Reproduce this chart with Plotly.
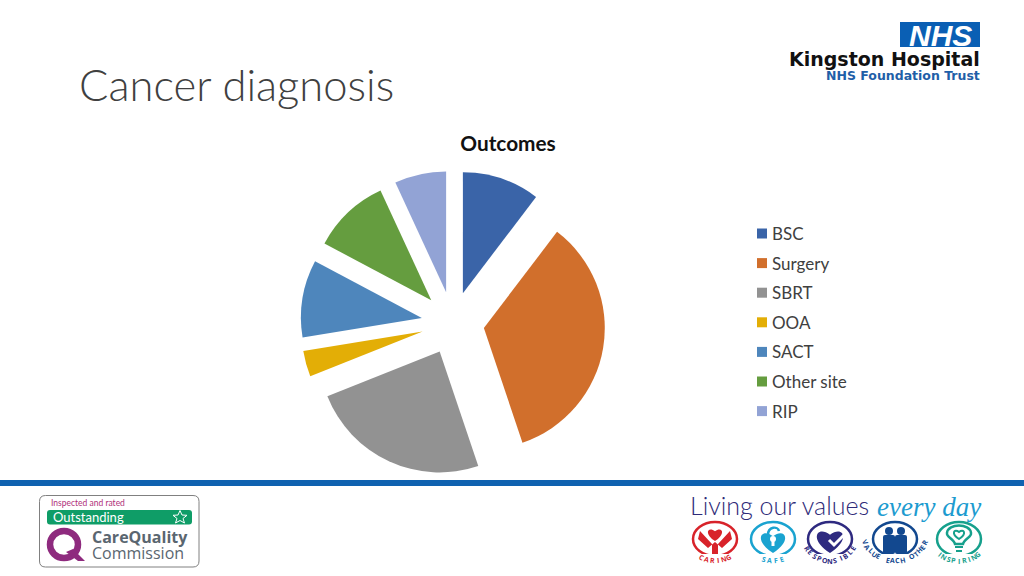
"""Outcomes pie on the Kingston Hospital slide template."""

import math

import plotly.graph_objects as go

CATEGORIES = ["BSC", "Surgery", "SBRT", "OOA", "SACT", "Other site", "RIP"]
PATIENTS = [3, 10, 7, 1, 3, 3, 2]
COLOURS = ["#3A64A8", "#D16F2C", "#929292", "#E3AE06", "#4E86BC", "#659D3F", "#92A3D5"]
VALUES = ["CARING", "SAFE", "RESPONSIBLE", "VALUE EACH OTHER", "INSPIRING"]
VALUE_COLOURS = ["#D8232A", "#1AA3D0", "#2E2A80", "#12488F", "#16A08C"]

NAVY = "#2E2A78"
FONT = "Lato"

shapes = []
annotations = []


def label(x, y, text, size, color="#000000", anchor="left", family=FONT, angle=0, weight=None):
    font = dict(size=size, color=color, family=family)
    if weight:
        font["weight"] = weight
    annotations.append(
        dict(
            x=x, y=y, xref="x", yref="y", text=text, showarrow=False, xanchor=anchor,
            yanchor="middle", textangle=angle, font=font,
        )
    )


def rect(x0, y0, x1, y1, fill):
    shapes.append(dict(type="rect", x0=x0, y0=y0, x1=x1, y1=y1, fillcolor=fill, line_width=0))


def path(d, fill="rgba(0,0,0,0)", line=None, width=0):
    shapes.append(dict(type="path", path=d, fillcolor=fill, line=dict(color=line or "rgba(0,0,0,0)", width=width)))


def rounded(x0, y0, x1, y1, r):
    return (
        f"M{x0 + r},{y0} L{x1 - r},{y0} Q{x1},{y0} {x1},{y0 + r} L{x1},{y1 - r} Q{x1},{y1} {x1 - r},{y1} "
        f"L{x0 + r},{y1} Q{x0},{y1} {x0},{y1 - r} L{x0},{y0 + r} Q{x0},{y0} {x0 + r},{y0} Z"
    )


def heart(cx, cy, s):
    return (
        f"M{cx},{cy + s} C{cx - 1.7 * s},{cy - 0.1 * s} {cx - 0.95 * s},{cy - 1.15 * s} {cx},{cy - 0.4 * s} "
        f"C{cx + 0.95 * s},{cy - 1.15 * s} {cx + 1.7 * s},{cy - 0.1 * s} {cx},{cy + s} Z"
    )


def disc(cx, cy, r, color):
    shapes.append(dict(type="circle", x0=cx - r, y0=cy - r, x1=cx + r, y1=cy + r, fillcolor=color, line_width=0))


def arc_text(cx, bottom, r, text, color, step):
    # value names curve along the bottom of each badge
    start = -step * (len(text) - 1) / 2
    for i, ch in enumerate(text):
        a = math.radians(start + i * step)
        label(cx + r * math.sin(a), bottom - r + r * math.cos(a), f"<b>{ch}</b>", 7, color, "center", "Open Sans", -math.degrees(a))


# slide heading and rule
label(77, 84, "Cancer diagnosis", 43.5, "#404040", weight=300)
rect(0, 480, 1024, 486, "#0F62B0")

# NHS logo
rect(900, 22, 980, 47, "#0A5FB4")
label(940, 35, "<b><i>NHS</i></b>", 30, "white", "center", "Liberation Sans")
label(982, 59, "<b>Kingston Hospital</b>", 19, "#111111", "right", "DejaVu Sans")
label(982, 75, "<b>NHS Foundation Trust</b>", 12.5, "#1F5FA8", "right", "DejaVu Sans")

# hand-built legend so the row spacing matches the slide
for i, (name, colour) in enumerate(zip(CATEGORIES, COLOURS)):
    y = 233.5 + i * 29.6
    rect(757, y - 5, 767, y + 5, colour)
    label(770, y, name, 17, "#404040")

# CQC badge
path(rounded(39.5, 495.5, 199, 567, 6), "white", "#808080", 1)
label(49, 503, "Inspected and rated", 8.5, "#B0307A")
path(rounded(47, 510, 192, 524.5, 3), "#0F9D67")
label(51, 517, "Outstanding", 13, "white")
path("M180,510.5 L182,515 L187,515.3 L183,518.5 L184.5,523 L180,520.5 L175.5,523 L177,518.5 L173,515.3 L178,515 Z",
     "rgba(0,0,0,0)", "white", 1)
shapes.append(dict(type="circle", x0=50, y0=531, x1=78, y1=558, fillcolor="white", line=dict(color="#8E2A7E", width=6.5)))
path("M66,552 L78,561 L85,561 L73,549 Z", "#8E2A7E")
label(90, 536.5, "<b>CareQuality</b>", 16, "#5A6670", family="Open Sans")
label(90, 552.5, "Commission", 16, "#5A6670", family="Open Sans")

# values strip
label(688, 505, "Living our values", 25, NAVY, weight=300)
label(875, 507, "<i>every day</i>", 27, "#1C9BD0", family="Liberation Serif")

BADGES = [715, 773, 830, 895, 959]
BADGE_Y = 539
ARC_RADII = [30, 30, 27, 34, 30]
ARC_STEPS = [11, 12, 11.6, 8.3, 9.7]
for cx, word, colour, r, step in zip(BADGES, VALUES, VALUE_COLOURS, ARC_RADII, ARC_STEPS):
    shapes.append(
        dict(type="circle", x0=cx - 22, y0=BADGE_Y - 17, x1=cx + 22, y1=BADGE_Y + 17,
             fillcolor="white", line=dict(color=colour, width=2.5))
    )
    path(rounded(cx - 14, BADGE_Y + 15, cx + 14, BADGE_Y + 19, 1), "white")
    arc_text(cx, 561, r, word, colour, step)

# caring: heart held by two hands
cx = BADGES[0]
path(heart(cx, BADGE_Y - 5, 7), VALUE_COLOURS[0])
path(f"M{cx - 15},{BADGE_Y - 8} L{cx - 3},{BADGE_Y + 5} L{cx - 3},{BADGE_Y + 15} L{cx + 3},{BADGE_Y + 15} "
     f"L{cx + 3},{BADGE_Y + 5} L{cx + 15},{BADGE_Y - 8} L{cx + 17},{BADGE_Y} L{cx + 7},{BADGE_Y + 9} "
     f"L{cx},{BADGE_Y + 3} L{cx - 7},{BADGE_Y + 9} L{cx - 17},{BADGE_Y} Z", VALUE_COLOURS[0])
# safe: heart shaped padlock
cx = BADGES[1]
path(f"M{cx - 5},{BADGE_Y - 4} C{cx - 5},{BADGE_Y - 13} {cx + 5},{BADGE_Y - 13} {cx + 6},{BADGE_Y - 8}",
     line=VALUE_COLOURS[1], width=2.5)
path(heart(cx, BADGE_Y + 2, 12), VALUE_COLOURS[1])
disc(cx, BADGE_Y, 3, "white")
rect(cx - 1.5, BADGE_Y, cx + 1.5, BADGE_Y + 7, "white")
# responsible: heart with a tick
cx = BADGES[2]
path(heart(cx, BADGE_Y + 1, 13), VALUE_COLOURS[2])
path(f"M{cx - 1},{BADGE_Y + 1} L{cx + 4},{BADGE_Y + 6} L{cx + 16},{BADGE_Y - 6}", line="white", width=3)
# value each other: two figures
cx = BADGES[3]
for dx in (-6, 6):
    disc(cx + dx, BADGE_Y - 8, 4, VALUE_COLOURS[3])
    path(rounded(cx + dx - 6, BADGE_Y - 4, cx + dx + 6, BADGE_Y + 15, 2), VALUE_COLOURS[3])
# inspiring: light bulb with a heart filament
cx = BADGES[4]
path(f"M{cx - 4},{BADGE_Y + 5} C{cx - 5},{BADGE_Y} {cx - 13},{BADGE_Y - 2} {cx - 12},{BADGE_Y - 6} "
     f"C{cx - 11},{BADGE_Y - 16} {cx + 11},{BADGE_Y - 16} {cx + 12},{BADGE_Y - 6} "
     f"C{cx + 13},{BADGE_Y - 2} {cx + 5},{BADGE_Y} {cx + 4},{BADGE_Y + 5} Z", "white", VALUE_COLOURS[4], 2.5)
path(heart(cx, BADGE_Y - 5, 5), "white", VALUE_COLOURS[4], 2)
rect(cx - 4, BADGE_Y + 7, cx + 4, BADGE_Y + 9, VALUE_COLOURS[4])
rect(cx - 3, BADGE_Y + 11, cx + 3, BADGE_Y + 13, VALUE_COLOURS[4])

fig = go.Figure(
    go.Pie(
        labels=CATEGORIES,
        values=PATIENTS,
        marker=dict(colors=COLOURS, line=dict(width=0)),
        pull=0.26,
        sort=False,
        direction="clockwise",
        rotation=0,
        textinfo="none",
        showlegend=False,
        domain=dict(x=[0.2935, 0.591], y=[0.1745, 0.704]),
    )
)

fig.update_layout(
    width=1024,
    height=576,
    margin=dict(l=0, r=0, t=0, b=0),
    paper_bgcolor="white",
    plot_bgcolor="white",
    showlegend=False,
    title=dict(
        text="<b>Outcomes</b>", x=508 / 1024, y=1 - 144 / 576, xanchor="center", yanchor="middle",
        font=dict(size=20.8, color="#111111", family=FONT),
    ),
    xaxis=dict(range=[0, 1024], visible=False, domain=[0, 1], fixedrange=True),
    yaxis=dict(range=[576, 0], visible=False, domain=[0, 1], fixedrange=True),
    shapes=shapes,
    annotations=annotations,
)

# the page's default body margin would push the slide 8px off the window corner
fig.write_html(
    "out.html",
    config=dict(displayModeBar=False),
    post_script="document.body.style.margin='0';",
)
